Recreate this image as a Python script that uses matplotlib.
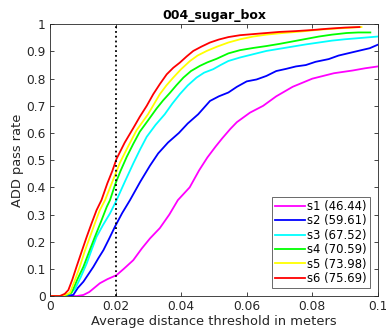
import matplotlib
matplotlib.use("Agg")
import matplotlib.pyplot as plt

labels = ["s1 (46.44)", "s2 (59.61)", "s3 (67.52)", "s4 (70.59)", "s5 (73.98)", "s6 (75.69)"]
colors = ["#ff00ff", "#0000ff", "#00ffff", "#00ff00", "#ffff00", "#ff0000"]

s1_x = [0.0, 0.0030, 0.0082, 0.0102, 0.0120, 0.0135, 0.0152, 0.0175, 0.0203, 0.0225, 0.0254, 0.0280, 0.0305, 0.0335, 0.0364, 0.0390, 0.0426, 0.0455, 0.0480, 0.0505, 0.0525, 0.0550, 0.0570, 0.0610, 0.0650, 0.0690, 0.0740, 0.0800, 0.0866, 0.0923, 0.0960, 0.1000]
s1_y = [0.0, 0.0, 0.0, 0.004, 0.015, 0.030, 0.047, 0.062, 0.077, 0.100, 0.132, 0.175, 0.212, 0.250, 0.300, 0.353, 0.400, 0.463, 0.510, 0.550, 0.580, 0.615, 0.640, 0.675, 0.700, 0.735, 0.770, 0.800, 0.820, 0.830, 0.838, 0.845]

s2_x = [0.0, 0.0040, 0.0055, 0.0071, 0.0085, 0.0102, 0.0117, 0.0132, 0.0148, 0.0163, 0.0180, 0.0198, 0.0220, 0.0244, 0.0275, 0.0305, 0.0330, 0.0360, 0.0393, 0.0420, 0.0452, 0.0488, 0.0515, 0.0544, 0.0570, 0.0600, 0.0630, 0.0660, 0.0690, 0.0720, 0.0750, 0.0780, 0.0810, 0.0850, 0.0880, 0.0915, 0.0950, 0.0975, 0.1000]
s2_y = [0.0, 0.0, 0.002, 0.004, 0.030, 0.053, 0.080, 0.107, 0.140, 0.169, 0.210, 0.255, 0.305, 0.353, 0.420, 0.480, 0.525, 0.565, 0.600, 0.635, 0.669, 0.718, 0.735, 0.749, 0.770, 0.790, 0.797, 0.810, 0.828, 0.836, 0.845, 0.850, 0.862, 0.872, 0.885, 0.895, 0.905, 0.912, 0.925]

s3_x = [0.0, 0.0036, 0.0055, 0.0076, 0.0094, 0.0112, 0.0127, 0.0142, 0.0162, 0.0183, 0.0203, 0.0228, 0.0254, 0.0275, 0.0295, 0.0322, 0.0350, 0.0373, 0.0396, 0.0420, 0.0447, 0.0470, 0.0498, 0.0520, 0.0544, 0.0580, 0.0620, 0.0660, 0.0700, 0.0740, 0.0780, 0.0820, 0.0860, 0.0900, 0.0950, 0.1000]
s3_y = [0.0, 0.0, 0.006, 0.025, 0.070, 0.120, 0.170, 0.218, 0.262, 0.304, 0.353, 0.420, 0.488, 0.540, 0.586, 0.630, 0.669, 0.708, 0.743, 0.775, 0.804, 0.822, 0.835, 0.850, 0.865, 0.878, 0.890, 0.902, 0.910, 0.918, 0.926, 0.933, 0.940, 0.945, 0.950, 0.955]

s4_x = [0.0, 0.0034, 0.0050, 0.0066, 0.0083, 0.0102, 0.0120, 0.0137, 0.0155, 0.0173, 0.0183, 0.0200, 0.0215, 0.0234, 0.0254, 0.0274, 0.0300, 0.0325, 0.0345, 0.0366, 0.0385, 0.0407, 0.0430, 0.0457, 0.0480, 0.0508, 0.0544, 0.0580, 0.0620, 0.0660, 0.0700, 0.0740, 0.0780, 0.0820, 0.0860, 0.0905, 0.0940, 0.0977]
s4_y = [0.0, 0.0, 0.004, 0.012, 0.060, 0.108, 0.165, 0.218, 0.272, 0.328, 0.353, 0.415, 0.460, 0.512, 0.560, 0.605, 0.648, 0.690, 0.720, 0.748, 0.775, 0.804, 0.828, 0.847, 0.860, 0.873, 0.893, 0.905, 0.913, 0.920, 0.928, 0.937, 0.946, 0.955, 0.962, 0.968, 0.970, 0.970]

s5_x = [0.0, 0.0033, 0.0048, 0.0061, 0.0075, 0.0091, 0.0106, 0.0122, 0.0137, 0.0152, 0.0168, 0.0190, 0.0213, 0.0238, 0.0264, 0.0299, 0.0335, 0.0355, 0.0376, 0.0400, 0.0427, 0.0450, 0.0478, 0.0510, 0.0544, 0.0580, 0.0620, 0.0660, 0.0710, 0.0770, 0.0820, 0.0880, 0.0950]
s5_y = [0.0, 0.0, 0.005, 0.012, 0.055, 0.108, 0.165, 0.218, 0.268, 0.316, 0.353, 0.420, 0.490, 0.550, 0.610, 0.669, 0.743, 0.775, 0.804, 0.835, 0.865, 0.885, 0.902, 0.918, 0.933, 0.945, 0.955, 0.962, 0.968, 0.974, 0.980, 0.985, 0.990]

s6_x = [0.0, 0.0030, 0.0045, 0.0056, 0.0068, 0.0081, 0.0097, 0.0112, 0.0127, 0.0142, 0.0157, 0.0175, 0.0190, 0.0203, 0.0228, 0.0254, 0.0274, 0.0295, 0.0315, 0.0335, 0.0356, 0.0376, 0.0396, 0.0417, 0.0437, 0.0462, 0.0488, 0.0515, 0.0544, 0.0580, 0.0620, 0.0660, 0.0700, 0.0750, 0.0800, 0.0850, 0.0900, 0.0944]
s6_y = [0.0, 0.0, 0.008, 0.022, 0.060, 0.108, 0.165, 0.218, 0.268, 0.316, 0.353, 0.415, 0.460, 0.505, 0.565, 0.618, 0.660, 0.700, 0.743, 0.780, 0.816, 0.840, 0.859, 0.882, 0.902, 0.918, 0.933, 0.944, 0.953, 0.960, 0.964, 0.968, 0.972, 0.975, 0.979, 0.984, 0.988, 0.990]

xs = [s1_x, s2_x, s3_x, s4_x, s5_x, s6_x]
ys = [s1_y, s2_y, s3_y, s4_y, s5_y, s6_y]

threshold = 0.02
x_ticks = [0, 0.02, 0.04, 0.06, 0.08, 0.1]
x_ticklabels = ["0", "0.02", "0.04", "0.06", "0.08", "0.1"]
y_ticks = [0, 0.1, 0.2, 0.3, 0.4, 0.5, 0.6, 0.7, 0.8, 0.9, 1]
y_ticklabels = ["0", "0.1", "0.2", "0.3", "0.4", "0.5", "0.6", "0.7", "0.8", "0.9", "1"]

plt.rcParams['font.family'] = ['DejaVu Sans']
fig = plt.figure(figsize=(3.86, 3.33), dpi=100)
ax = fig.add_axes([0.1295, 0.111, 0.8495, 0.816])

axc = '#262626'
for x, y, c, l in zip(xs, ys, colors, labels):
    ax.plot(x, y, color=c, lw=1.3, label=l)
ax.axvline(threshold, color='black', ls=':', lw=1.3)

ax.set_xlim(0, 0.1)
ax.set_ylim(0, 1)
ax.set_xticks(x_ticks)
ax.set_xticklabels(x_ticklabels)
ax.set_yticks(y_ticks)
ax.set_yticklabels(y_ticklabels)
ax.tick_params(direction='in', top=True, right=True, length=3, width=0.6,
               colors=axc, labelsize=8.8, pad=3)
for sp in ax.spines.values():
    sp.set_color(axc)
    sp.set_linewidth(0.6)
ax.set_xlabel("Average distance threshold in meters", fontsize=9.4, color=axc, labelpad=1)
ax.set_ylabel("ADD pass rate", fontsize=9.4, color=axc, labelpad=2)
ax.set_title("004_sugar_box", fontsize=9, fontweight='bold', pad=4)

leg = ax.legend(loc='lower right', fontsize=8.4, frameon=True, fancybox=False,
                edgecolor=axc, handlelength=2.6, handletextpad=0.2,
                labelspacing=0.12, borderpad=0.25, borderaxespad=0.7)
leg.get_frame().set_linewidth(0.6)

fig.savefig("out.png", dpi=100)
